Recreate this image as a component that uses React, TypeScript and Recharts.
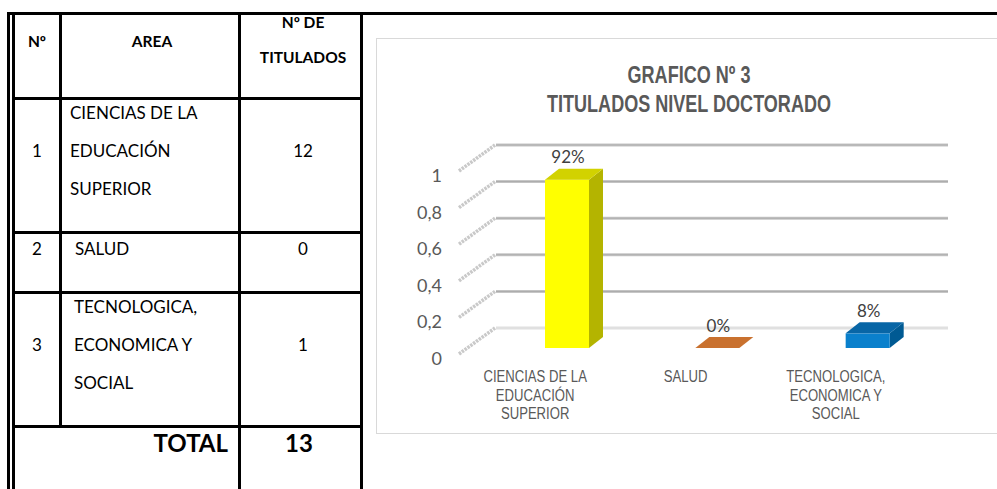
import { Bar, BarChart, CartesianGrid, Cell, LabelList, XAxis, YAxis } from "recharts";

// --- datos de la tabla ---
const rowNumbers = ["1", "2", "3"];
const areaNames = [
  ["CIENCIAS DE LA", "EDUCACIÓN", "SUPERIOR"],
  ["SALUD"],
  ["TECNOLOGICA,", "ECONOMICA Y", "SOCIAL"],
];
const titulados = [12, 0, 1];
const totalTitulados = 13;

// --- datos del gráfico ---
const categories = [
  "CIENCIAS DE LA\nEDUCACIÓN\nSUPERIOR",
  "SALUD",
  "TECNOLOGICA,\nECONOMICA Y\nSOCIAL",
];
const shares = [0.92, 0, 0.08];
const yTicks = [0, 0.2, 0.4, 0.6, 0.8, 1];

const barColors = ["#FFFF00", "#ED7D31", "#0A80CC"];
const FACES: Record<string, { top: string; side: string }> = {
  "#FFFF00": { top: "#D2D200", side: "#B4B400" },
  "#ED7D31": { top: "#C9712F", side: "#A85A1E" },
  "#0A80CC": { top: "#0866A6", side: "#005A93" },
};

const data = categories.map((name, i) => ({ name, share: shares[i] }));

const DX = 14;
const DY = 11;
const GRAY = "#595959";
const CALIBRI = "Lato, 'Open Sans', sans-serif";
const NARROW = "'Liberation Sans', Arial, sans-serif";

function Box3D(props: any) {
  const { x, y, width, height, fill } = props;
  const f = FACES[fill] ?? { top: fill, side: fill };
  const top = `${x},${y} ${x + DX},${y - DY} ${x + width + DX},${y - DY} ${x + width},${y}`;
  const side = `${x + width},${y} ${x + width + DX},${y - DY} ${x + width + DX},${y + height - DY} ${x + width},${y + height}`;
  return (
    <g>
      {height > 0 && <polygon points={side} fill={f.side} />}
      {height > 0 && <rect x={x} y={y} width={width} height={height} fill={fill} />}
      <polygon points={top} fill={f.top} />
    </g>
  );
}

function WallLine(props: any) {
  const { x1, x2, y1 } = props;
  const back = y1 - 20;
  const floor = Math.abs(y1 - (props.y + props.height)) < 1;
  return (
    <g key={props.key}>
      <line x1={x1 - 33} y1={y1 + 6} x2={x1 + 3} y2={back} stroke="#c9c9c9" strokeWidth={3.5} strokeDasharray="2.5 1" />
      <line x1={x1 + 4} y1={back} x2={x2 + 5} y2={back} stroke={floor ? "#e0e0e0" : "#c6c6c6"} strokeWidth={3} />
      {!floor && <line x1={x1 + 4} y1={back} x2={x2 + 5} y2={back} stroke="#ababab" strokeWidth={1} />}
    </g>
  );
}

function YTick({ x, y, payload }: any) {
  return (
    <text x={x - 50} y={y + 10} textAnchor="end" dominantBaseline="central" fill={GRAY} fontSize={18} fontFamily={CALIBRI}>
      {String(payload.value).replace(".", ",")}
    </text>
  );
}

function XTick({ x, y, payload }: any) {
  const lines = String(payload.value).split("\n");
  return (
    <g transform={`translate(${x - 32},${y + 28})`}>
      <text transform="scale(0.82,1.05)" textAnchor="middle" fill={GRAY} fontSize={16} fontFamily={NARROW}>
        {lines.map((l, i) => (
          <tspan key={i} x={0} y={i * 17.6} dominantBaseline="central">
            {l}
          </tspan>
        ))}
      </text>
    </g>
  );
}

function PctLabel({ x, y, width, value }: any) {
  return (
    <text x={x + width / 2 + 1} y={y - 23} textAnchor="middle" dominantBaseline="central" fill="#404040" fontSize={17} fontFamily={CALIBRI}>
      {Math.round(Number(value) * 100)}%
    </text>
  );
}

const line = (left: number, top: number, width: number, height: number) => (
  <div key={`${left}-${top}-${width}-${height}`} style={{ position: "absolute", left, top, width, height, background: "#000" }} />
);

function Table() {
  const rowCenters = [113, 249, 307];
  const txt = (left: number, top: number, s: string, extra: any = {}) => (
    <div
      key={`${left}-${top}-${s}`}
      style={{
        position: "absolute",
        left,
        top: top - 12,
        height: 24,
        lineHeight: "24px",
        fontFamily: CALIBRI,
        fontSize: 17,
        color: "#000",
        whiteSpace: "nowrap",
        ...extra,
      }}
    >
      {s}
    </div>
  );
  const centered = (cx: number, cy: number, s: string, extra: any = {}) =>
    txt(cx - 60, cy, s, { width: 120, textAlign: "center", ...extra });
  const head = { fontWeight: 700, fontSize: 15.5 };

  return (
    <>
      {line(7, 12, 990, 3)}
      {line(7, 12, 3, 477)}
      {line(12, 12, 3, 477)}
      {line(59, 12, 3, 414)}
      {line(238, 12, 3, 477)}
      {line(360, 12, 3, 477)}
      {line(12, 97, 351, 3)}
      {line(12, 231, 351, 3)}
      {line(12, 291, 351, 3)}
      {line(12, 425, 351, 3)}

      {centered(37, 41, "Nº", head)}
      {centered(152, 41, "AREA", head)}
      {centered(303, 22, "Nº DE", head)}
      {centered(303, 57, "TITULADOS", head)}

      {areaNames.map((lines, r) => {
        const first = rowCenters[r];
        const mid = first + ((lines.length - 1) * 38) / 2;
        const left = r === 0 ? 70 : r === 1 ? 75 : 74;
        return (
          <div key={r}>
            {centered(37, mid, rowNumbers[r])}
            {lines.map((l, i) => txt(left, first + i * 38, l))}
            {centered(303, mid, String(titulados[r]))}
          </div>
        );
      })}

      {txt(100, 443, "TOTAL", { width: 128, textAlign: "right", fontWeight: 700, fontSize: 24 })}
      {centered(299, 443, String(totalTitulados), { fontWeight: 700, fontSize: 24 })}
    </>
  );
}

export default function App() {
  return (
    <div style={{ position: "absolute", left: 0, top: 0, width: 997, height: 489, overflow: "hidden", background: "#fff" }}>
      <Table />
      <div
        style={{
          position: "absolute",
          left: 376,
          top: 38,
          width: 640,
          height: 396,
          border: "1.5px solid #d9d9d9",
          boxSizing: "border-box",
        }}
      />
      <div
        style={{
          position: "absolute",
          left: 489,
          top: 62,
          width: 400,
          textAlign: "center",
          fontFamily: NARROW,
          fontWeight: 700,
          fontSize: 22,
          lineHeight: "27px",
          color: GRAY,
          transform: "scale(0.82, 1.08)",
        }}
      >
        GRAFICO Nº 3
        <br />
        TITULADOS NIVEL DOCTORADO
      </div>
      <BarChart
        width={997}
        height={489}
        data={data}
        margin={{ top: 165, right: 54, left: 442, bottom: 111 }}
        style={{ position: "absolute", left: 0, top: 0 }}
      >
        <CartesianGrid vertical={false} horizontal={WallLine} />
        <XAxis dataKey="name" axisLine={false} tickLine={false} tickSize={0} tickMargin={0} height={30} interval={0} tick={<XTick />} />
        <YAxis
          type="number"
          domain={[0, 1]}
          ticks={yTicks}
          width={50}
          axisLine={false}
          tickLine={false}
          tickSize={0}
          tickMargin={0}
          tick={<YTick />}
        />
        <Bar dataKey="share" barSize={44} shape={<Box3D />} isAnimationActive={false}>
          {data.map((d, i) => (
            <Cell key={d.name} fill={barColors[i]} />
          ))}
          <LabelList dataKey="share" content={<PctLabel />} />
        </Bar>
      </BarChart>
    </div>
  );
}
